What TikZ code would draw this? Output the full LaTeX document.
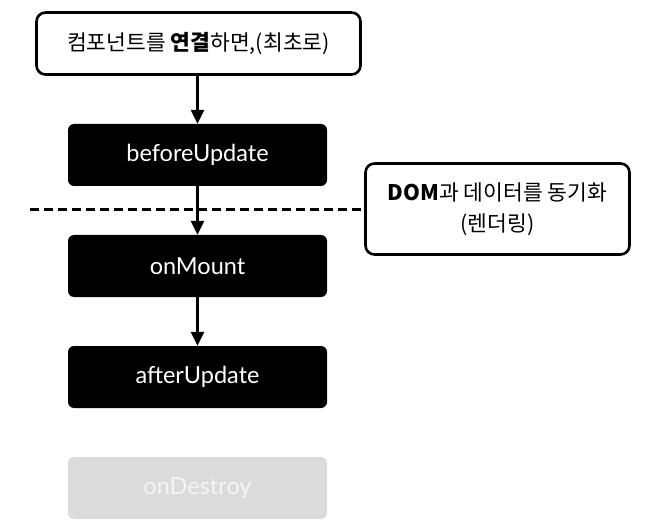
\documentclass[tikz,border=0pt]{standalone}
\usepackage{fontspec}
\setmainfont{Lato}
\newfontfamily\kr{Noto Sans CJK KR}
\usetikzlibrary{arrows.meta}
\tikzset{
  stage/.style={fill=black, rounded corners=6pt, minimum width=259pt, minimum height=62pt, inner sep=0pt, text=white, font=\fontsize{23.5}{26}\selectfont},
  faded/.style={stage, fill=black!14, text=black!4},
  note/.style={draw=black, line width=2.6pt, fill=white, rounded corners=9pt, inner sep=0pt, align=center},
  flow/.style={line width=2.8pt, -{Triangle[length=14pt,width=13pt]}}
}
\begin{document}
\begin{tikzpicture}[x=1pt,y=-1pt]
\useasboundingbox (0,0) rectangle (654,532);
\node[note, minimum width=324pt, minimum height=62pt, font=\kr\fontsize{21.5}{30}\selectfont] (start) at (198.5,43.5) {컴포넌트를 \textbf{연결}하면,(최초로)};
\node[stage] (before) at (197.5,155) {beforeUpdate};
\node[stage] (mount) at (197.5,266) {onMount};
\node[stage] (after) at (197.5,377) {afterUpdate};
\node[faded] (destroy) at (197.5,488) {onDestroy};
\node[note, minimum width=264pt, minimum height=91pt, font=\kr\fontsize{21.5}{31}\selectfont] (dom) at (497.5,209) {\textbf{DOM}과 데이터를 동기화\\(렌더링)};
\coordinate (dl) at (30,210);
\draw[line width=3pt, dash pattern=on 9pt off 5pt] (dl) -- (dl -| dom.west);
\draw[flow] (start.south -| before.north) -- (before.north);
\draw[flow] (before) -- (mount.north);
\draw[flow] (mount) -- (after.north);
\end{tikzpicture}
\end{document}
